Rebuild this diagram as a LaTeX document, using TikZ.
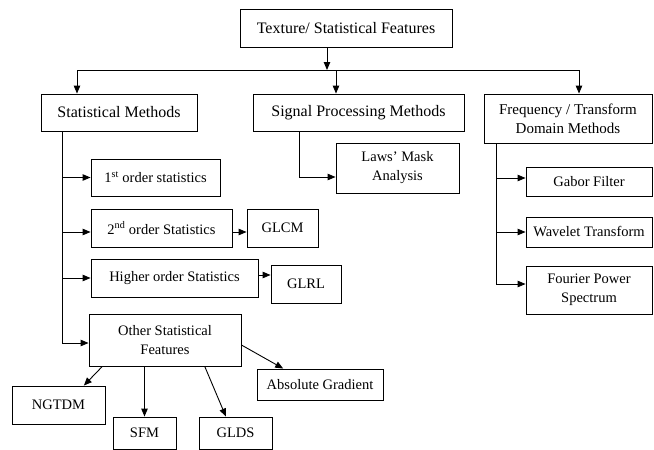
\documentclass[tikz,border=0pt]{standalone}
\usepackage{fontspec}
\setmainfont{Liberation Serif}
\usetikzlibrary{arrows,calc,arrows.meta}
\usetikzlibrary{positioning}

\begin{document}
\begin{tikzpicture}[x=1pt,y=-1pt,
		    box/.style={draw,line width=0.9pt,align=center,inner sep=2pt,font=\fontsize{16}{19}\selectfont},
		    leaf/.style={box,font=\fontsize{14.5}{19}\selectfont},
		    arr/.style={-{Triangle[length=8pt,width=6.5pt]},line width=0.9pt},
		    ln/.style={line width=0.9pt}]

		    \useasboundingbox (0,0) rectangle (654,450);

		    \node(tex) [box,minimum width=212,minimum height=38] at (346,28) {Texture/ Statistical Features};

		    \node(stat) [box,minimum width=156,minimum height=37] at (119,112.5) {Statistical Methods};
		    \node(sig) [box,minimum width=211,minimum height=37] at (358.5,112.5) {Signal Processing Methods};
		    \node(freq) [box,font=\fontsize{15}{19}\selectfont,minimum width=168,minimum height=49] at (568,118.5) {Frequency / Transform\\Domain Methods};

		    \node(first) [leaf,minimum width=129,minimum height=37] at (155.5,177.5) {1\textsuperscript{st} order statistics};
		    \node(second) [leaf,minimum width=141,minimum height=38] at (161.5,228) {2\textsuperscript{nd} order Statistics};
		    \node(glcm) [leaf,minimum width=71,minimum height=38] at (282.5,228) {GLCM};
		    \node(higher) [leaf,minimum width=167,minimum height=38] at (174.5,278) {Higher order Statistics};
		    \node(glrl) [leaf,minimum width=70,minimum height=38] at (306,284) {GLRL};
		    \node(other) [leaf,minimum width=152,minimum height=52] at (165,340) {Other Statistical\\Features};

		    \node(ngtdm) [leaf,minimum width=93,minimum height=38] at (58.5,405) {NGTDM};
		    \node(sfm) [leaf,minimum width=63,minimum height=32] at (144.5,433) {SFM};
		    \node(glds) [leaf,minimum width=73,minimum height=32] at (235.5,433) {GLDS};
		    \node(absg) [leaf,minimum width=126,minimum height=31] at (320,384.5) {Absolute Gradient};

		    \node(laws) [leaf,minimum width=123,minimum height=50] at (397.5,168) {Laws' Mask\\Analysis};

		    \node(gabor) [leaf,minimum width=126,minimum height=29] at (589,181.5) {Gabor Filter};
		    \node(wave) [leaf,minimum width=126,minimum height=30] at (589,232) {Wavelet Transform};
		    \node(four) [leaf,minimum width=126,minimum height=48] at (589,290) {Fourier Power\\Spectrum};

		    \coordinate (bus) at (327,70);
		    \coordinate (busL) at (77,70);
		    \coordinate (busM) at (336,70);
		    \coordinate (busR) at (579,70);
		    \coordinate (statT) at (62,131);
		    \coordinate (sigT) at (299,131);
		    \coordinate (freqT) at (496,143);

		    \draw[arr] (tex.south -| bus) -- (bus);
		    \draw[ln] (busL) -- (busR);
		    \draw[arr] (busL) -- (stat.north -| busL);
		    \draw[arr] (busM) -- (sig.north -| busM);
		    \draw[arr] (busR) -- (freq.north -| busR);

		    \draw[arr] (statT) |- (first.west);
		    \draw[arr] (statT) |- ([yshift=-4pt]second.west);
		    \draw[arr] (statT) |- (higher.west);
		    \draw[arr] (statT) |- ([yshift=-3pt]other.west);
		    \draw[arr] ([yshift=-4pt]second.east) -- ([yshift=-4pt]second.east -| glcm.west);
		    \draw[arr] ([yshift=3pt]higher.east) -- ([yshift=3pt]higher.east -| glrl.west);

		    \draw[arr] (sigT) |- ([yshift=-9pt]laws.west);

		    \draw[arr] (freqT) |- ([yshift=3.5pt]gabor.west);
		    \draw[arr] (freqT) |- (wave.west);
		    \draw[arr] (freqT) |- ([yshift=6pt]four.west);

		    \draw[arr] ($(other.south west)!0.09!(other.south east)$) -- ($(ngtdm.north west)!0.77!(ngtdm.north east)$);
		    \draw[arr] (other.south -| sfm) -- (sfm.north);
		    \draw[arr] ($(other.south west)!0.76!(other.south east)$) -- ($(glds.north west)!0.37!(glds.north east)$);
		    \draw[arr] ([yshift=-5pt]other.east) -- ($(absg.north west)!0.21!(absg.north east)$);

\end{tikzpicture}
\end{document}
